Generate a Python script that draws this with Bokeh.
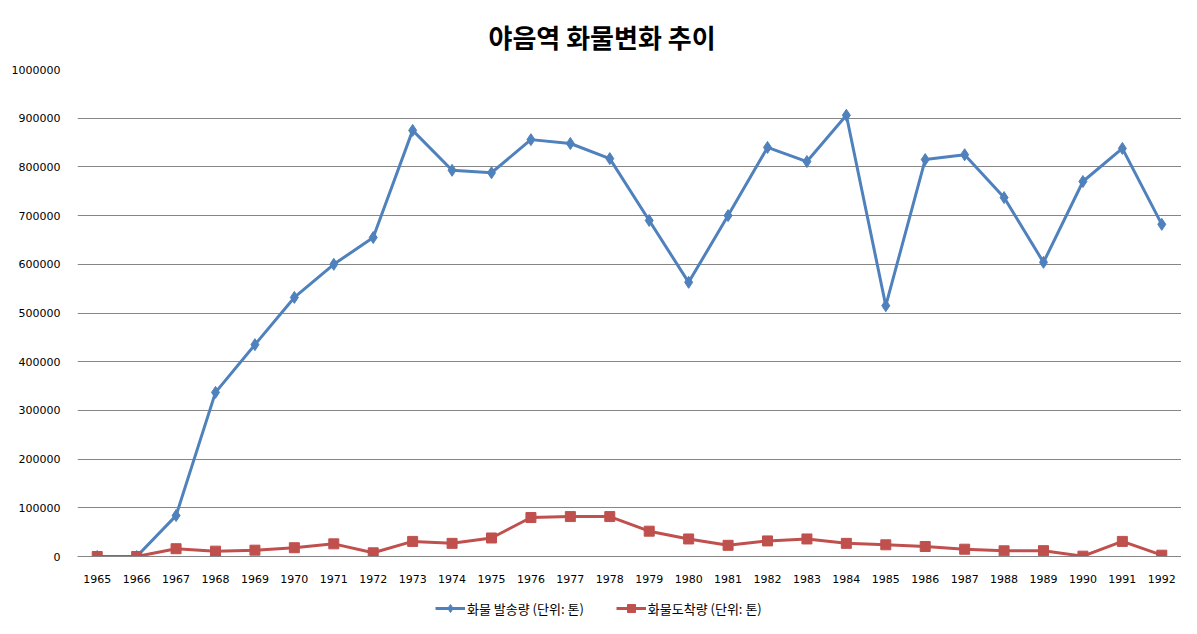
from bokeh.plotting import figure
from bokeh.layouts import column
from bokeh.models import FactorRange, Range1d, Legend, LegendItem, BasicTickFormatter, FixedTicker
from bokeh.embed import file_html
from bokeh.resources import INLINE

years = [str(y) for y in range(1965, 1993)]
dispatch = [0, 0, 84000, 337000, 435000, 532000, 600000, 655000, 875000, 793000,
            788000, 856000, 848000, 817000, 690000, 563000, 700000, 840000, 811000, 906000,
            515000, 815000, 825000, 737000, 604000, 770000, 838000, 682000]
arrival = [0, 0, 16000, 11000, 13000, 18000, 26000, 7600, 31000, 27000,
           38000, 80000, 82000, 82000, 52000, 36000, 23000, 32000, 36000, 27000,
           24000, 20500, 15000, 11700, 12000, 700, 31000, 2700]
y_ticks = list(range(0, 1000001, 100000))

title_text = "야음역 화물변화 추이"
label_dispatch = "화물 발송량 (단위: 톤)"
label_arrival = "화물도착량 (단위: 톤)"

BLUE = "#4F81BD"
RED = "#C0504D"
FONT = "Noto Sans CJK KR"

p = figure(width=1181, height=590, x_range=FactorRange(*years), y_range=Range1d(0, 1000000),
           output_backend="svg", toolbar_location=None,
           min_border_left=77, min_border_right=0, min_border_top=69, min_border_bottom=34)
p.title.text = title_text
p.title.align = "left"
p.title.text_font = FONT
p.title.text_font_size = "26px"
p.title.text_font_style = "bold"
p.title.text_color = "black"
p.title.offset = 411
p.title.standoff = 30

p.outline_line_color = None
p.xgrid.grid_line_color = None
p.ygrid.grid_line_color = "#868686"
p.ygrid.grid_line_width = 1
p.ygrid.ticker = FixedTicker(ticks=y_ticks)

p.yaxis.ticker = FixedTicker(ticks=y_ticks)
p.yaxis.formatter = BasicTickFormatter(use_scientific=False)
p.yaxis.axis_line_color = None
p.yaxis.major_tick_line_color = None
p.yaxis.minor_tick_line_color = None
p.yaxis.major_label_text_font = "DejaVu Sans"
p.yaxis.major_label_text_font_size = "11px"
p.yaxis.major_label_text_color = "black"
p.yaxis.major_label_standoff = 11

p.xaxis.axis_line_color = "#868686"
p.xaxis.major_tick_line_color = None
p.xaxis.minor_tick_line_color = None
p.xaxis.major_label_text_font = "DejaVu Sans"
p.xaxis.major_label_text_font_size = "11px"
p.xaxis.major_label_text_color = "black"
p.xaxis.major_label_standoff = 12

p.line(years, dispatch, line_color=BLUE, line_width=3)
p.scatter(years, dispatch, marker="diamond", size=12, fill_color=BLUE, line_color=BLUE)
p.line(years, arrival, line_color=RED, line_width=3)
p.scatter(years, arrival, marker="square", size=10, fill_color=RED, line_color=RED)

# legend strip below the chart (its glyph renderers sit outside the visible range)
q = figure(width=1181, height=28, x_range=Range1d(0, 1), y_range=Range1d(0, 1),
           output_backend="svg", toolbar_location=None,
           x_axis_location=None, y_axis_location=None,
           min_border_left=77, min_border_right=0, min_border_top=0, min_border_bottom=0)
q.outline_line_color = None
q.xgrid.grid_line_color = None
q.ygrid.grid_line_color = None
ql1 = q.line([-5, -4], [-5, -5], line_color=BLUE, line_width=3)
qs1 = q.scatter([-5], [-5], marker="diamond", size=12, fill_color=BLUE, line_color=BLUE)
ql2 = q.line([-5, -4], [-5, -5], line_color=RED, line_width=3)
qs2 = q.scatter([-5], [-5], marker="square", size=10, fill_color=RED, line_color=RED)

legend = Legend(items=[LegendItem(label=label_dispatch, renderers=[ql1, qs1]),
                       LegendItem(label=label_arrival, renderers=[ql2, qs2])],
                orientation="horizontal", location=(358, 0),
                label_text_font=FONT, label_text_font_size="13px", label_text_color="black",
                glyph_width=30, glyph_height=20, label_height=20, spacing=32,
                border_line_color=None, background_fill_alpha=0,
                padding=0, margin=0, label_standoff=2)
q.add_layout(legend, "center")

open("out.html", "w").write(file_html(column(p, q, spacing=0), INLINE))
